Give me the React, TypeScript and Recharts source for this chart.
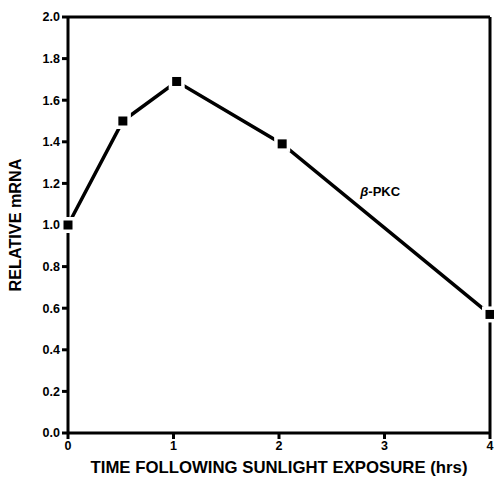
import React from "react";
import {
  LineChart,
  Line,
  XAxis,
  YAxis,
  ReferenceLine,
  ReferenceDot,
} from "recharts";

// values
const hours = [0, 0.52, 1.03, 2.03, 4];
const relativeMrna = [1.0, 1.5, 1.69, 1.39, 0.57];
const xTicks = [0, 1, 2, 3, 4];
const yTicks = [0, 0.2, 0.4, 0.6, 0.8, 1.0, 1.2, 1.4, 1.6, 1.8, 2.0];
const seriesName = "PKC";

const data = hours.map((h, i) => ({ h, v: relativeMrna[i] }));

const FONT = "'Liberation Sans', Arial, sans-serif";

function SquareDot(props: any) {
  const { cx, cy, index } = props;
  if (cx == null || cy == null) return null;
  return (
    <g key={`dot-${index}`}>
      {/* white halo gives the little gap where line meets marker */}
      <rect x={cx - 8} y={cy - 8} width={16} height={16} fill="#fff" />
      <rect x={cx - 4.5} y={cy - 4.5} width={9} height={9} fill="#000" />
    </g>
  );
}

function SeriesLabel(props: any) {
  const { viewBox } = props;
  if (!viewBox) return null;
  return (
    <text
      x={viewBox.x}
      y={viewBox.y}
      dy={4}
      fontFamily={FONT}
      fontWeight="bold"
      fontSize={13}
      fill="#000"
    >
      <tspan fontStyle="italic">β</tspan>
      <tspan>-{seriesName}</tspan>
    </text>
  );
}

function XTitle(props: any) {
  const { viewBox } = props;
  const cx = viewBox.x + viewBox.width / 2;
  return (
    <text
      x={cx}
      y={473}
      textAnchor="middle"
      fontFamily={FONT}
      fontWeight="bold"
      fontSize={17}
      textLength={377}
      lengthAdjust="spacingAndGlyphs"
      fill="#000"
    >
      TIME FOLLOWING SUNLIGHT EXPOSURE (hrs)
    </text>
  );
}

function YTitle(props: any) {
  const { viewBox } = props;
  const cy = viewBox.y + viewBox.height / 2;
  return (
    <text
      x={0}
      y={0}
      transform={`translate(21, ${cy}) rotate(-90)`}
      textAnchor="middle"
      fontFamily={FONT}
      fontWeight="bold"
      fontSize={17}
      textLength={133}
      lengthAdjust="spacingAndGlyphs"
      fill="#000"
    >
      RELATIVE mRNA
    </text>
  );
}

export default function App() {
  return (
    <div style={{ position: "absolute", left: 0, top: 0, background: "#fff" }}>
      <LineChart
        width={494}
        height={482}
        data={data}
        margin={{ top: 17, right: 4, left: 0, bottom: 0 }}
      >
        <XAxis
          dataKey="h"
          type="number"
          domain={[0, 4]}
          ticks={xTicks}
          height={49}
          stroke="#000"
          strokeWidth={3}
          tickSize={6}
          tick={{ fill: "#000", fontSize: 12.5, fontWeight: "bold", fontFamily: FONT }}
          label={<XTitle />}
        />
        <YAxis
          type="number"
          domain={[0, 2]}
          ticks={yTicks}
          width={68}
          stroke="#000"
          strokeWidth={3}
          tickSize={6}
          tickFormatter={(v: number) => v.toFixed(1)}
          tick={{ fill: "#000", fontSize: 12.5, fontWeight: "bold", fontFamily: FONT }}
          label={<YTitle />}
        />
        {/* frame: top and right edges */}
        <ReferenceLine y={2} stroke="#000" strokeWidth={3} />
        <ReferenceLine x={4} stroke="#000" strokeWidth={3} />
        <ReferenceDot x={2.77} y={1.16} r={0} label={<SeriesLabel />} />
        <Line
          type="linear"
          dataKey="v"
          stroke="#000"
          strokeWidth={3.5}
          dot={<SquareDot />}
          activeDot={false}
          isAnimationActive={false}
        />
      </LineChart>
    </div>
  );
}
